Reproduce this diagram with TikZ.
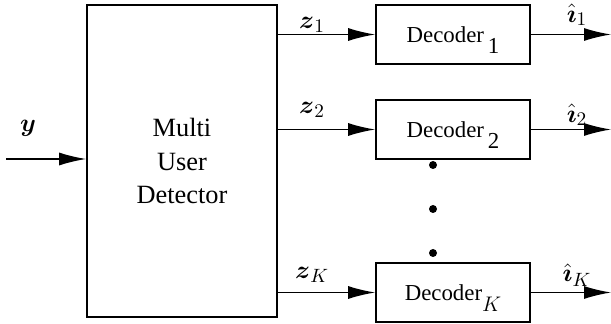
\documentclass[tikz,border=0pt]{standalone}
\usepackage{amsmath}
\usepackage{fontspec}
\setmainfont{Liberation Serif}
\usepackage{tikz}
\usetikzlibrary{arrows.meta}
\usetikzlibrary{positioning}
\usetikzlibrary{calc}

\begin{document}
\begin{tikzpicture}[x=0.02cm, y=0.02cm, >={Latex[length=5.4mm,width=2.6mm]},
	block/.style={draw, line width=1pt, rectangle, inner sep=0pt, align=center},
	decoder/.style={block, minimum width=3.08cm, minimum height=1.18cm, font=\fontsize{13}{15}\selectfont},
	signal/.style={->, line width=0.8pt},
	sym/.style={inner sep=1pt, font=\fontsize{15}{18}\selectfont}]
		\useasboundingbox (0,0) rectangle (611,324);
		\node[block, minimum width=3.8cm, minimum height=6.24cm, font=\fontsize{15}{19}\selectfont](mud) at (182, 163) {Multi\\User\\Detector};
		\node[decoder](dec1) at (453, 289.5) {Decoder\,\raisebox{-1.1ex}[0pt][0pt]{1}};
		\node[decoder](dec2) at (453, 194.5) {Decoder\,\raisebox{-1.1ex}[0pt][0pt]{2}};
		\node[decoder](decK) at (453, 31.5) {Decoder\raisebox{-1.1ex}[0pt][0pt]{$K$}};
		
		\coordinate (in) at (6, 165);
		\coordinate (out1) at (611, 289.5);
		\coordinate (out2) at (611, 194.5);
		\coordinate (outK) at (611, 31.5);
		
		\draw[signal] (in) -- (in -| mud.west);
		\draw[signal] (mud.east |- dec1.west) -- (dec1.west);
		\draw[signal] (mud.east |- dec2.west) -- (dec2.west);
		\draw[signal] (mud.east |- decK.west) -- (decK.west);
		\draw[signal] (dec1.east) -- (out1);
		\draw[signal] (dec2.east) -- (out2);
		\draw[signal] (decK.east) -- (outK);
		
		\foreach \i/\y in {1/159, 2/115, 3/71}
			\node[circle, fill, inner sep=0pt, minimum size=0.16cm](dot\i) at (433, \y) {};
		
		\node[sym](ylab) at (28, 196) {$\boldsymbol{y}$};
		\node[sym](z1) at (312, 299) {$\boldsymbol{z}_1$};
		\node[sym](z2) at (312, 214) {$\boldsymbol{z}_2$};
		\node[sym](zK) at (312, 49) {$\boldsymbol{z}_K$};
		\node[sym](i1) at (577, 309) {$\hat{\boldsymbol{\imath}}_1$};
		\node[sym](i2) at (577, 209) {$\hat{\boldsymbol{\imath}}_2$};
		\node[sym](iK) at (577, 49) {$\hat{\boldsymbol{\imath}}_K$};
		\end{tikzpicture}
\end{document}
